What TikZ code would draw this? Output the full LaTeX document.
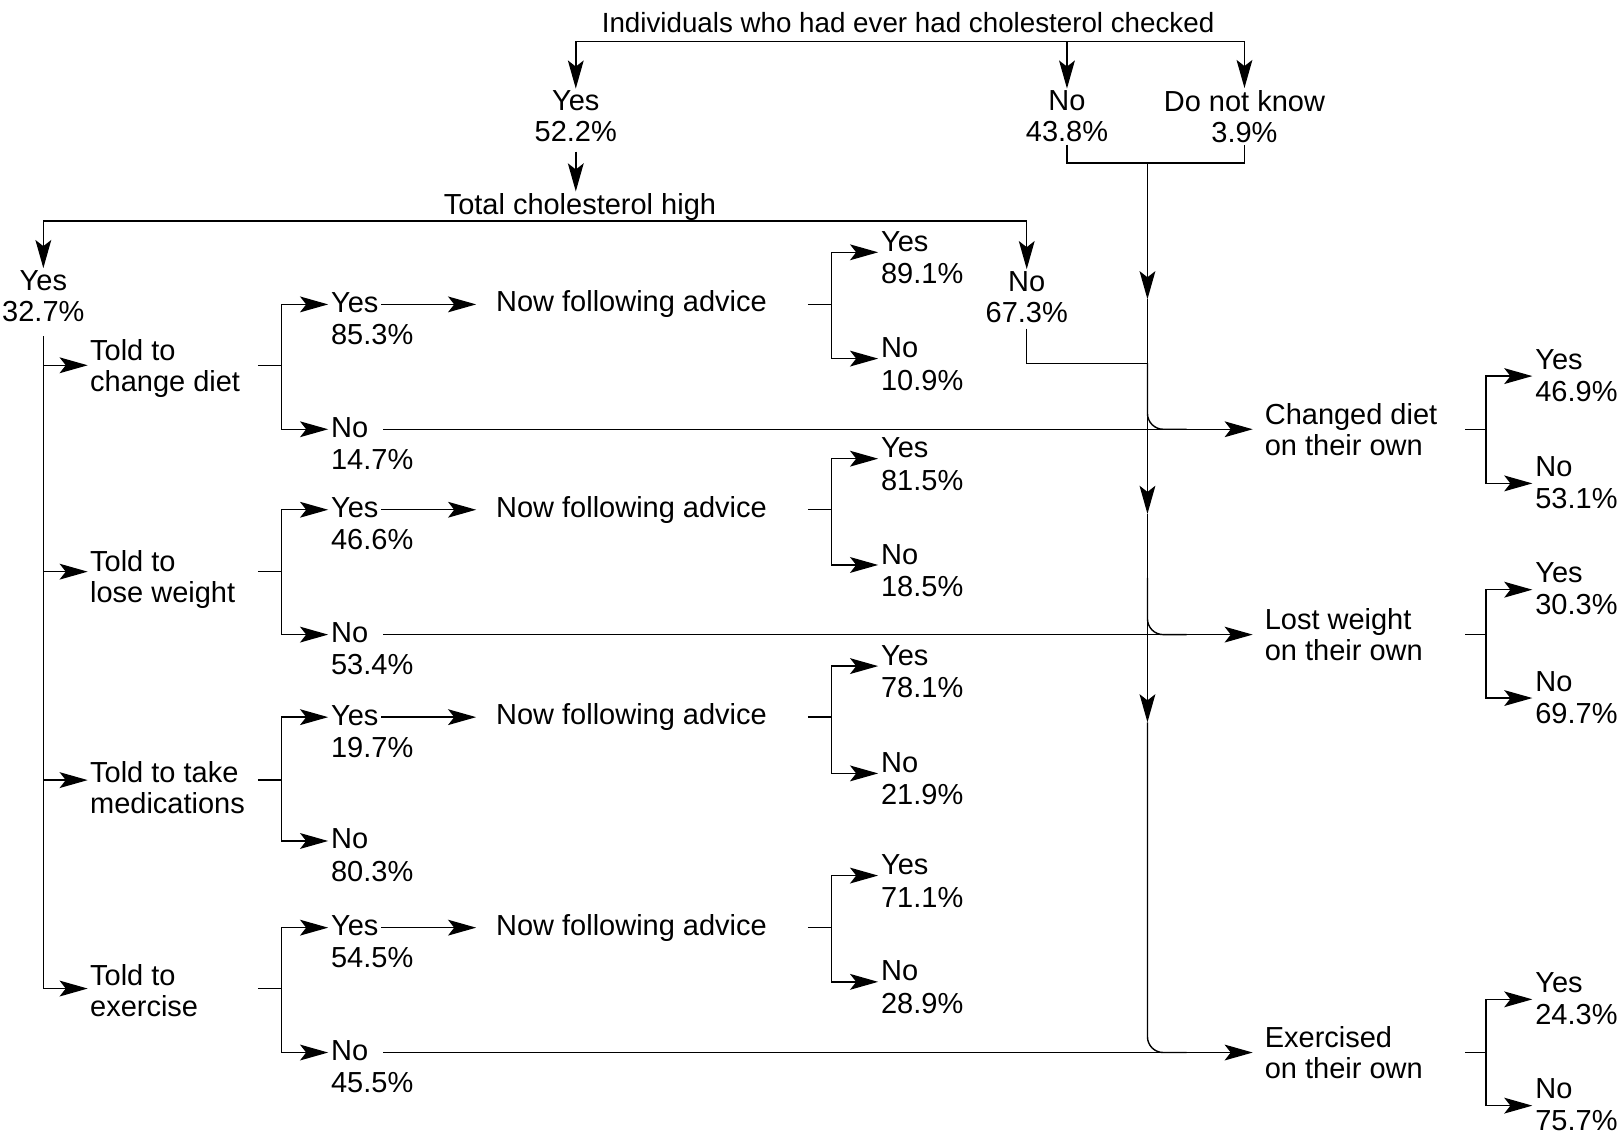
\documentclass[tikz,border=0pt]{standalone}
\usepackage{fontspec}
\setmainfont{Liberation Sans}
\usetikzlibrary{arrows.meta}

\tikzset{
	every node/.style={font=\fontsize{16.5}{17.6}\selectfont},
	txt/.style={inner sep=1pt},
	ans/.style={inner sep=1.3pt, text height=12pt, text depth=3pt, anchor=west},
	pct/.style={ans, anchor=north west},
	advice/.style={inner xsep=11pt, inner ysep=1pt},
	own/.style={anchor=west, align=left, inner xsep=6.5pt},
	arr/.style={-{Stealth[length=16pt,width=9pt,inset=3.5pt]}},
}

\begin{document}
\begin{tikzpicture}[x=0.020638cm, y=-0.020638cm, line width=0.8pt]
			\useasboundingbox (0,0) rectangle (1568,1099);
			\node[txt, font=\fontsize{15.8}{17.6}\selectfont] (check) at (880,22) {Individuals who had ever had cholesterol checked};
			\node[txt, align=center] (ck-yes) at (558,113) {Yes\\52.2\%};
			\node[txt, align=center] (ck-no) at (1034,113) {No\\43.8\%};
			\node[txt, align=center] (ck-dk) at (1206,113) {Do not know\\3.9\%};
			\coordinate (tbar) at (0,40);
			\draw (ck-yes.north |- tbar) -- (ck-dk.north |- tbar);
			\foreach \n in {ck-yes, ck-no, ck-dk}
				\draw[arr] (\n.north |- tbar) -- (\n.north);

			\node[txt] (high) at (562,201) {Total cholesterol high};
			\draw[arr, shorten <=4pt] (ck-yes.south) -- (ck-yes.south |- high.north);
			\node[txt, align=center] (hi-yes) at (42,287) {Yes\\32.7\%};
			\node[txt, align=center] (hi-no) at (995,288) {No\\67.3\%};
			\coordinate (hbar) at (0,214);
			\draw (hi-yes.north |- hbar) -- (hi-no.north |- hbar);
			\foreach \n in {hi-yes, hi-no}
				\draw[arr] (\n.north |- hbar) -- (\n.north);

			% right-hand trunk
			\coordinate (trunk) at (1112,158);
			\coordinate (join) at (1112,352);
			\draw (ck-no.south) |- (trunk) -| (ck-dk.south);
			\draw[shorten <=2pt] (hi-no.south) |- (join);
			\draw[arr] (trunk) -- (1112,290);
			\draw[arr] (1112,290) -- (1112,498);
			\draw[arr] (1112,498) -- (1112,700);

			\coordinate (rstub) at (250,0);
			\coordinate (rfork) at (273,0);
			\coordinate (astub) at (783,0);
			\coordinate (afork) at (806,0);
			\foreach \r/\y/\yt/\txt/\yy/\yp/\ny/\np/\ay/\ap/\by/\bp in {
					1/354/357/{Told to\\change diet}/293/85.3/414/14.7/234/89.1/337/10.9,
					2/554/562/{Told to\\lose weight}/492/46.6/613/53.4/434/81.5/537/18.5,
					3/756/763/{Told to take\\medications}/693/19.7/813/80.3/635/78.1/739/21.9,
					4/958/960/{Told to\\exercise}/897/54.5/1018/45.5/838/71.1/941/28.9} {
					\node[txt, anchor=west, align=left] (row\r) at (85,\yt) {\txt};
					\coordinate (rc\r) at (0,\y);
					\draw[arr] (hi-yes.south |- rc\r) -- (row\r.west |- rc\r);
					\node[ans] (ry\r) at (318,\yy+2) {Yes};
					\node[pct] at (ry\r.south west) {\yp\%};
					\node[ans] (rn\r) at (318,\ny+2) {No};
					\node[pct] at (rn\r.south west) {\np\%};
					\draw (rc\r -| rstub) -- (rc\r -| rfork);
					\draw[arr] (rc\r -| rfork) |- (ry\r.west);
					\draw[arr] (rc\r -| rfork) |- (rn\r.west);
					\node[txt, advice] (adv\r) at (612,\yy+2) {Now following advice};
					\draw[arr] (ry\r.east) -- (adv\r.west);
					\node[ans] (ay\r) at (851,\ay+2) {Yes};
					\node[pct] at (ay\r.south west) {\ap\%};
					\node[ans] (an\r) at (851,\by+2) {No};
					\node[pct] at (an\r.south west) {\bp\%};
					\draw (adv\r -| astub) -- (adv\r -| afork);
					\draw[arr] (adv\r -| afork) |- ([yshift=-5pt]ay\r.west);
					\draw[arr] (adv\r -| afork) |- ([yshift=-5pt]an\r.west);
				}
			\draw (hi-yes.south |- 0,326) -- (hi-yes.south |- rc4);

			\draw[rounded corners=9pt] (join) |- (1150,416);
			\draw[rounded corners=9pt] (1112,560) |- (1150,615);
			\draw[rounded corners=9pt] (1112,700) |- (1150,1020);

			\coordinate (ownx) at (1214,0);
			\coordinate (ostub) at (1420,0);
			\coordinate (ofork) at (1440,0);
			\node[txt, own] (own1) at (rn1 -| ownx) {Changed diet\\on their own};
			\node[txt, own] (own2) at (rn2 -| ownx) {Lost weight\\on their own};
			\node[txt, own] (own4) at (rn4 -| ownx) {Exercised\\on their own};
			\foreach \r/\yy/\yp/\ny/\np in {1/348/46.9/452/53.1, 2/555/30.3/660/69.7, 4/952/24.3/1055/75.7} {
					\draw[arr, shorten <=7pt] (rn\r.east) -- (own\r.west);
					\node[ans] (oy\r) at (1485,\yy+2) {Yes};
					\node[pct] at (oy\r.south west) {\yp\%};
					\node[ans] (on\r) at (1485,\ny+2) {No};
					\node[pct] at (on\r.south west) {\np\%};
					\draw (own\r -| ostub) -- (own\r -| ofork);
					\draw[arr] (own\r -| ofork) |- ([yshift=-8.5pt]oy\r.west);
					\draw[arr] (own\r -| ofork) |- ([yshift=-8.5pt]on\r.west);
				}
		\end{tikzpicture}
\end{document}
